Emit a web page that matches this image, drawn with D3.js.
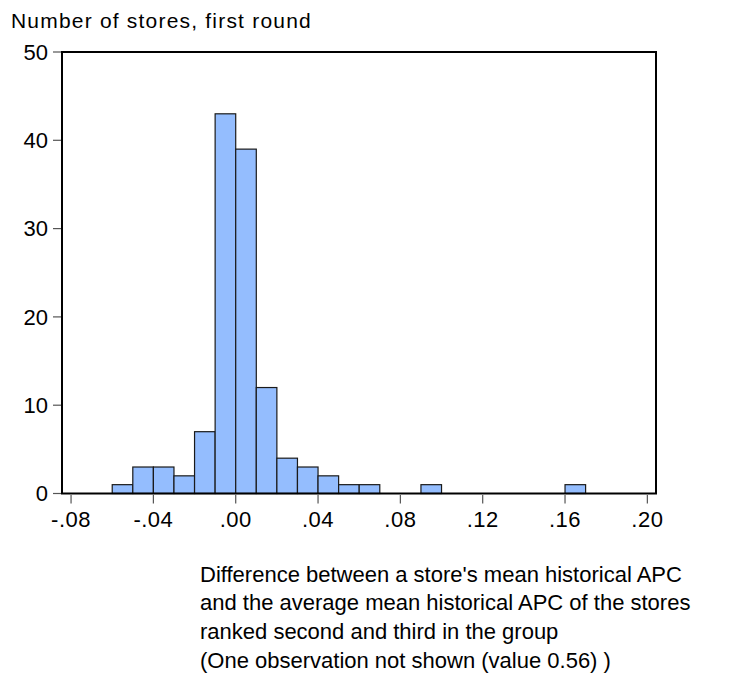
<!DOCTYPE html>
<html>
<head>
<meta charset="utf-8">
<script src="https://cdn.jsdelivr.net/npm/d3@7"></script>
<style>
  html, body { margin: 0; padding: 0; background: #fff; }
  svg { display: block; font-family: "Liberation Sans", Arial, Helvetica, sans-serif; }
</style>
</head>
<body>
<svg id="chart" width="734" height="675"></svg>
<script>
// ---- data ----
const binStarts = [-0.06, -0.05, -0.04, -0.03, -0.02, -0.01, 0.00, 0.01, 0.02, 0.03, 0.04, 0.05, 0.06, 0.09, 0.16];
const counts    = [1, 3, 3, 2, 7, 43, 39, 12, 4, 3, 2, 1, 1, 1, 1];
const binWidth = 0.01;
const xTicks = [-0.08, -0.04, 0.00, 0.04, 0.08, 0.12, 0.16, 0.20];
const xTickLabels = ["-.08", "-.04", ".00", ".04", ".08", ".12", ".16", ".20"];
const yTicks = [0, 10, 20, 30, 40, 50];
const yTitle = "Number of stores, first round";
const xTitleLines = [
  "Difference between a store's mean historical APC",
  "and the average mean historical APC of the stores",
  "ranked second and third in the group",
  "(One observation not shown (value 0.56) )"
];

// ---- layout ----
const svg = d3.select("#chart");
const pLeft = 62, pRight = 656, pTop = 52, pBottom = 493.5;

const x = d3.scaleLinear().domain([-0.0844, 0.2042]).range([pLeft, pRight]);
const y = d3.scaleLinear().domain([0, 50]).range([pBottom, pTop]);

// bars
const bins = binStarts.map((s, i) => ({x0: s, x1: s + binWidth, n: counts[i]}));
svg.append("g").selectAll("rect").data(bins).join("rect")
  .attr("x", d => x(d.x0))
  .attr("y", d => y(d.n))
  .attr("width", d => x(d.x1) - x(d.x0))
  .attr("height", d => y(0) - y(d.n))
  .attr("fill", "#94bdfe")
  .attr("stroke", "#1a1a1a")
  .attr("stroke-width", 1.2);

// frame
svg.append("rect")
  .attr("x", pLeft).attr("y", pTop)
  .attr("width", pRight - pLeft).attr("height", pBottom - pTop)
  .attr("fill", "none").attr("stroke", "#000").attr("stroke-width", 2);

// y axis ticks + labels
const yg = svg.append("g");
yg.selectAll("line").data(yTicks).join("line")
  .attr("x1", pLeft - 9).attr("x2", pLeft - 1)
  .attr("y1", d => y(d)).attr("y2", d => y(d))
  .attr("stroke", "#555").attr("stroke-width", 1.2);
yg.selectAll("text").data(yTicks).join("text")
  .attr("x", 48).attr("y", d => y(d) + 7.8)
  .attr("text-anchor", "end")
  .attr("font-size", 22).attr("fill", "#000")
  .text(d => d);

// x axis ticks + labels
const xg = svg.append("g");
xg.selectAll("line").data(xTicks).join("line")
  .attr("x1", d => x(d)).attr("x2", d => x(d))
  .attr("y1", pBottom + 1.5).attr("y2", pBottom + 10)
  .attr("stroke", "#555").attr("stroke-width", 1.2);
xg.selectAll("text").data(xTicks).join("text")
  .attr("x", d => x(d)).attr("y", 526.5)
  .attr("text-anchor", "middle")
  .attr("font-size", 22).attr("letter-spacing", 0.5).attr("fill", "#000")
  .text((d, i) => xTickLabels[i]);

// y title
svg.append("text")
  .attr("x", 11).attr("y", 27.5)
  .attr("font-size", 21).attr("letter-spacing", 1.2).attr("fill", "#000")
  .text(yTitle);

// x title (multi-line)
svg.append("g").selectAll("text").data(xTitleLines).join("text")
  .attr("x", 200).attr("y", (d, i) => 581.7 + i * 28.6)
  .attr("font-size", 22).attr("fill", "#000")
  .text(d => d);
</script>
</body>
</html>
